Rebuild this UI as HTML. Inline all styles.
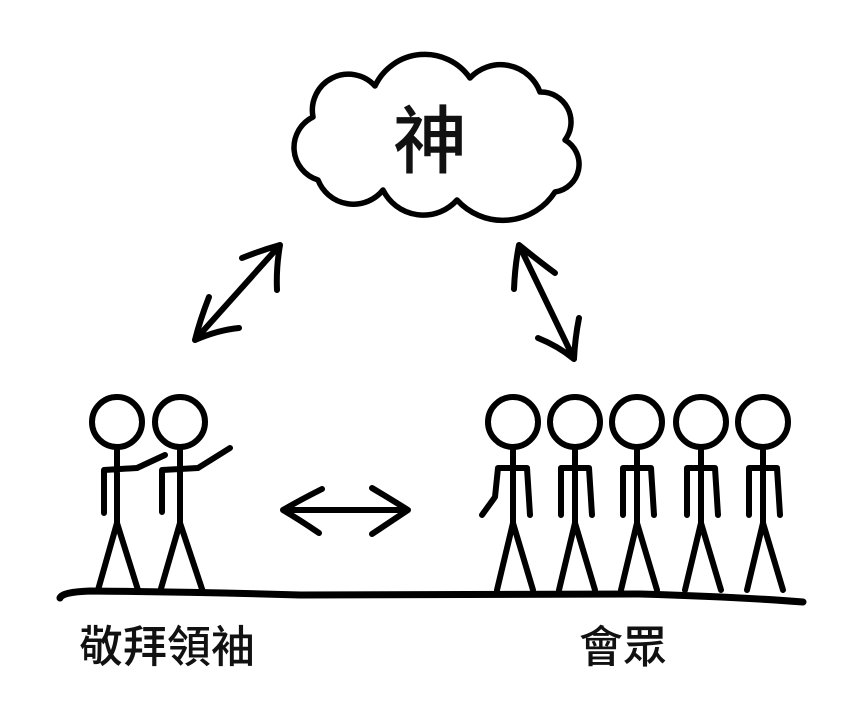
<!DOCTYPE html>
<html><head><meta charset="utf-8"><style>
html,body{margin:0;padding:0;background:#fff;width:855px;height:718px;overflow:hidden}
svg{display:block}
text{font-family:"Liberation Sans","Noto Sans CJK TC",sans-serif;font-weight:500;fill:#111}
</style></head><body>
<svg width="855" height="718" viewBox="0 0 855 718" xmlns="http://www.w3.org/2000/svg">
<g fill="none" stroke="#000" stroke-width="6" stroke-linecap="round" stroke-linejoin="round">
<path d="M318,180 A34,34 0 0 1 313,117 A36,36 0 0 1 375,86 A55,55 0 0 1 470,78 A42,42 0 0 1 540,92 A30,30 0 0 1 565,140 A28,28 0 0 1 555,192 A62,62 0 0 1 457,200 A45,45 0 0 1 383,190 A38,38 0 0 1 318,180 Z" stroke-width="5.5"/>
<path d="M195,340 L280,245 M242,258 Q262,250 280,245 Q276,268 277,290 M209,297 Q200,320 195,340 Q218,330 239,328"/>
<path d="M519,245 L574,359 M514,289 Q515,265 519,245 Q540,262 555,273 M538,338 Q558,346 574,359 Q575,338 579,318"/>
<path d="M283,510 L408,510 M322,489 Q300,500 283,510 Q300,520 319,533 M372,488 Q392,500 408,510 Q393,520 372,534"/>
<path d="M60,598 Q62,592 90,591 Q200,592 300,595 Q500,594 640,594 Q740,597 803,602" stroke-width="7"/>
<circle cx="117" cy="422" r="25"/>
<path d="M117,447 L117,523 M98,590 L117,523 L138,590 M104,513 L104,470 L137,468 L165,455"/>
<circle cx="180" cy="422" r="25"/>
<path d="M180,447 L180,523 M160,592 L180,523 L203,592 M162,512 L162,470 L198,468 L230,448"/>
<circle cx="513" cy="422" r="25"/>
<path d="M513,447 L513,523 M497,590 L513,523 L533,590 M482,515 L495,497 L498,468 L527,468 L530,515"/>
<g id="p">
<circle cx="575" cy="422" r="25"/>
<path d="M575,447 L575,523 M559,590 L575,523 L595,590 M561,515 L561,468 L589,468 L592,515"/>
</g>
<use href="#p" x="62"/>
<use href="#p" x="126"/>
<use href="#p" x="188"/>
</g>
<text x="430" y="167" font-size="74" text-anchor="middle">神</text>
<text x="79" y="662" font-size="44">敬拜領袖</text>
<text x="579" y="662" font-size="44">會眾</text>
</svg>
</body></html>
